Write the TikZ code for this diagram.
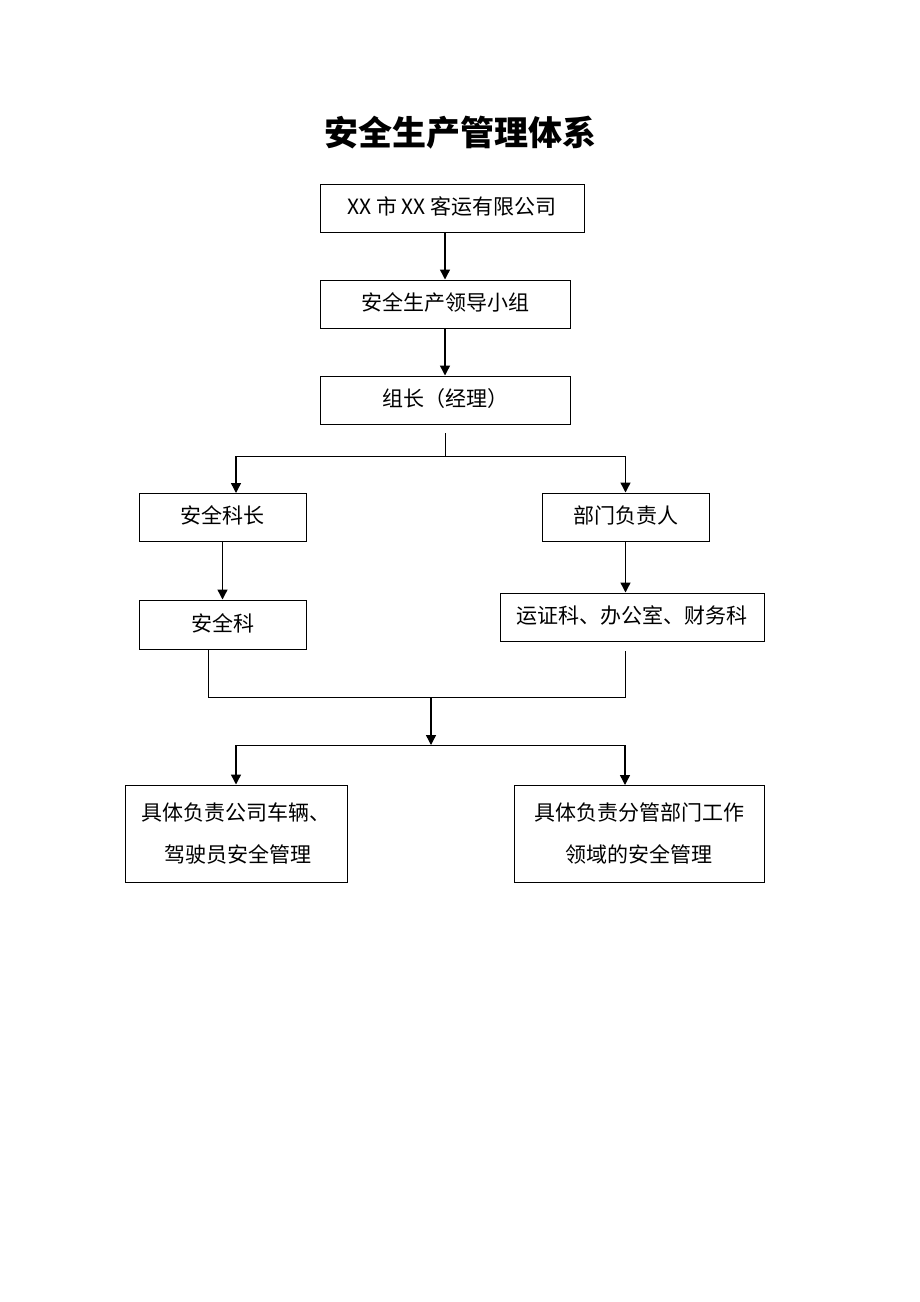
\documentclass[tikz,border=0pt]{standalone}
\usepackage{fontspec}
\newfontfamily\cjk{Noto Sans CJK SC}
\usetikzlibrary{arrows.meta}
\begin{document}
\begin{tikzpicture}[x=1pt,y=-1pt,
  box/.style={draw, line width=1pt, inner sep=0pt, align=center,
    font=\cjk\fontsize{21}{42}\selectfont},
  arr/.style={-{Triangle[length=10pt,width=10pt]}, line width=1.4pt},
  ln/.style={line width=0.8pt}]
\useasboundingbox[fill=white] (0,0) rectangle (920,1302);
\node (title) at (460,133) {\cjk\bfseries\fontsize{34}{40}\selectfont 安全生产管理体系};
\node[box, minimum width=264pt, minimum height=48pt] (b1) at (452,208) {\raisebox{5pt}{XX 市 XX 客运有限公司}};
\node[box, minimum width=250pt, minimum height=48pt] (b2) at (445,304) {\raisebox{5pt}{安全生产领导小组}};
\node[box, minimum width=250pt, minimum height=48pt] (b3) at (445,400) {\raisebox{5pt}{组长（经理）}};
\node[box, minimum width=167pt, minimum height=48pt] (b4) at (222.5,517) {\raisebox{5pt}{安全科长}};
\node[box, minimum width=167pt, minimum height=48pt] (b5) at (625.5,517) {\raisebox{5pt}{部门负责人}};
\node[box, minimum width=264pt, minimum height=48pt] (b6) at (632,617) {\raisebox{5pt}{运证科、办公室、财务科}};
\node[box, minimum width=167pt, minimum height=49pt] (b7) at (222.5,624.5) {\raisebox{3pt}{安全科}};
\node[box, minimum width=222pt, minimum height=97pt] (b8) at (236,833.5) {\raisebox{8pt}{\parbox{220pt}{\centering 具体负责公司车辆、\\ \hspace*{4pt}驾驶员安全管理}}};
\node[box, minimum width=250pt, minimum height=97pt] (b9) at (639,833.5) {\raisebox{8pt}{\parbox{248pt}{\centering 具体负责分管部门工作\\ 领域的安全管理}}};
\coordinate (j1) at (445,433);
\coordinate (h1) at (445,456);
\coordinate (t4) at (236,493);
\coordinate (s7) at (208,649);
\coordinate (s6) at (625,651);
\coordinate (m) at (431,697);
\coordinate (m2) at (431,745);
\coordinate (t9) at (625,785);
\draw[arr] (b2.north |- b1.south) -- (b2.north);
\draw[arr] (b2) -- (b3);
\draw[ln] (j1) -- (h1);
\draw[ln] (t4 |- h1) -- (b5.north |- h1);
\draw[arr] (t4 |- h1) -- (t4);
\draw[arr] (b5.north |- h1) -- (b5.north);
\draw[arr] (b4) -- (b7);
\draw[arr] (b5.south) -- (b5.south |- b6.north);
\draw[ln] (s7) |- (m) -| (s6);
\draw[arr] (m) -- (m2);
\draw[ln] (b8.north |- m2) -- (t9 |- m2);
\draw[arr] (b8.north |- m2) -- (b8.north);
\draw[arr] (t9 |- m2) -- (t9);
\end{tikzpicture}
\end{document}
